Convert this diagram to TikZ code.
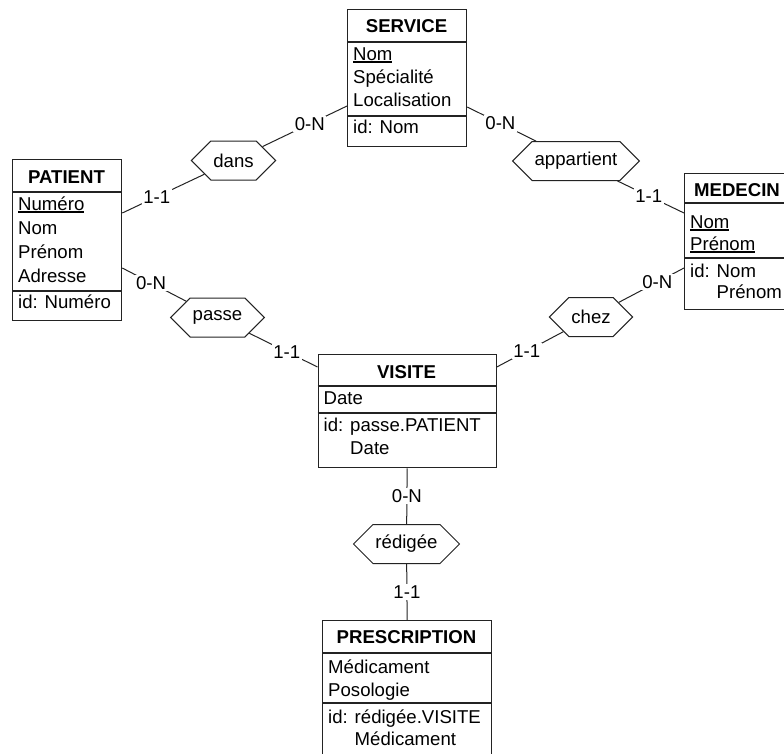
\documentclass[tikz,border=0pt]{standalone}
\usepackage{fontspec}
\setmainfont{Liberation Sans}
\usetikzlibrary{shapes.symbols}
\definecolor{ink}{RGB}{35,35,35}
% underlined identifier attribute
\newcommand\undl[1]{\setbox0\hbox{#1}\rlap{\rule[-2.6pt]{\wd0}{1.3pt}}\box0}
\newcommand\idpad{\phantom{id: }}
\begin{document}
\begin{tikzpicture}[x=1pt,y=-1pt,
  every node/.style={font=\fontsize{18.6pt}{22pt}\selectfont},
  entity/.style={draw=ink, line width=1.3pt, anchor=north west, inner sep=0pt},
  sepline/.style={draw=ink, line width=1.3pt},
  ertitle/.style={anchor=base, inner sep=0pt, font=\fontsize{18.6pt}{22pt}\selectfont\bfseries},
  erattr/.style={anchor=base west, inner sep=0pt},
  rel/.style={signal, signal to=east and west, signal pointer angle=90,
    draw=ink, line width=1pt, fill=white, minimum height=39pt,
    inner xsep=2.5pt, inner ysep=0pt},
  link/.style={draw=ink, line width=1pt},
  card/.style={fill=white, inner sep=1.5pt}
]
\useasboundingbox (0,0) rectangle (784,753);
\clip (0,0) rectangle (784,753);

% ---------- entity boxes ----------
\node[entity, minimum width=119pt, minimum height=137pt] (service) at (347,9) {};
\draw[sepline] ([yshift=-33pt]service.north west) -- ([yshift=-33pt]service.north east);
\draw[sepline] ([yshift=-107pt]service.north west) -- ([yshift=-107pt]service.north east);
\node[ertitle] (service-t) at (406.5,32) {SERVICE};
\node[erattr] (service-a1) at (353,60) {\undl{Nom}};
\node[erattr] (service-a2) at (353,83) {Spécialité};
\node[erattr] (service-a3) at (353,106) {Localisation};
\node[erattr] (service-i1) at (353,133) {id: Nom};

\node[entity, minimum width=109pt, minimum height=161pt] (patient) at (12,159) {};
\draw[sepline] ([yshift=-33pt]patient.north west) -- ([yshift=-33pt]patient.north east);
\draw[sepline] ([yshift=-132pt]patient.north west) -- ([yshift=-132pt]patient.north east);
\node[ertitle] (patient-t) at (66.5,183) {PATIENT};
\node[erattr] (patient-a1) at (18,210) {\undl{Numéro}};
\node[erattr] (patient-a2) at (18,234) {Nom};
\node[erattr] (patient-a3) at (18,258) {Prénom};
\node[erattr] (patient-a4) at (18,282) {Adresse};
\node[erattr] (patient-i1) at (18,308) {id: Numéro};

% this box runs past the right edge of the page
\node[entity, minimum width=112pt, minimum height=136pt] (medecin) at (684,173) {};
\draw[sepline] ([yshift=-30pt]medecin.north west) -- ([yshift=-30pt]medecin.north east);
\draw[sepline] ([yshift=-85pt]medecin.north west) -- ([yshift=-85pt]medecin.north east);
\node[ertitle] (medecin-t) at (737,196) {MEDECIN};
\node[erattr] (medecin-a1) at (690,228) {\undl{Nom}};
\node[erattr] (medecin-a2) at (690,250) {\undl{Prénom}};
\node[erattr] (medecin-i1) at (690,277) {id: Nom};
\node[erattr] (medecin-i2) at (690,298) {\idpad Prénom};

\node[entity, minimum width=178pt, minimum height=113pt] (visite) at (317.5,354) {};
\draw[sepline] ([yshift=-32pt]visite.north west) -- ([yshift=-32pt]visite.north east);
\draw[sepline] ([yshift=-59pt]visite.north west) -- ([yshift=-59pt]visite.north east);
\node[ertitle] (visite-t) at (406.5,378) {VISITE};
\node[erattr] (visite-a1) at (323.5,404) {Date};
\node[erattr] (visite-i1) at (323.5,431) {id: passe.PATIENT};
\node[erattr] (visite-i2) at (323.5,454) {\idpad Date};

% this box runs past the bottom edge of the page
\node[entity, minimum width=169pt, minimum height=150pt] (prescription) at (322,620) {};
\draw[sepline] ([yshift=-33pt]prescription.north west) -- ([yshift=-33pt]prescription.north east);
\draw[sepline] ([yshift=-83pt]prescription.north west) -- ([yshift=-83pt]prescription.north east);
\node[ertitle] (prescription-t) at (406.5,643) {PRESCRIPTION};
\node[erattr] (prescription-a1) at (328,673) {Médicament};
\node[erattr] (prescription-a2) at (328,696) {Posologie};
\node[erattr] (prescription-i1) at (328,723) {id: rédigée.VISITE};
\node[erattr] (prescription-i2) at (328,745) {\idpad Médicament};

% ---------- relationship hexagons ----------
\node[rel] (dans) at (233.5,160.5) {dans};
\node[rel] (appartient) at (576,161) {appartient};
\node[rel] (passe) at (217.5,317.5) {passe};
\node[rel] (chez) at (591,317) {chez};
\node[rel] (redigee) at (406.5,544) {rédigée};

% ---------- roles with cardinalities ----------
\draw[link] ([yshift=-54pt]patient.north east) -- node[card,pos=.42]{1-1} (dans);
\draw[link] ([yshift=-97pt]service.north west) -- node[card,pos=.44]{0-N} (dans);
\draw[link] ([yshift=-98pt]service.north east) -- node[card,pos=.48]{0-N} (appartient);
\draw[link] ([yshift=-40pt]medecin.north west) -- node[card,pos=.53]{1-1} (appartient);
\draw[link] ([yshift=-109pt]patient.north east) -- node[card,pos=.45]{0-N} (passe);
\draw[link] ([yshift=-95pt]medecin.north west) -- node[card,pos=.41]{0-N} (chez);
\draw[link] ([yshift=-13pt]visite.north west) -- node[card,pos=.45]{1-1} (passe);
\draw[link] ([yshift=-13pt]visite.north east) -- node[card,pos=.45]{1-1} (chez);
\draw[link] (visite.south) -- node[card]{0-N} (redigee);
\draw[link] (redigee) -- node[card]{1-1} (prescription.north);
\end{tikzpicture}
\end{document}
